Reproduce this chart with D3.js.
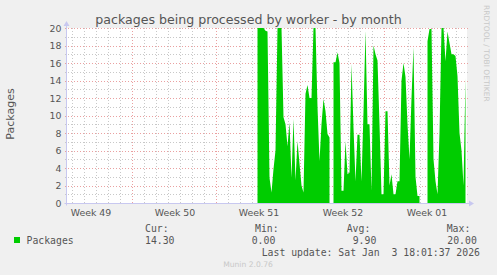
<!DOCTYPE html>
<html>
<head>
<meta charset="utf-8">
<script src="https://cdn.jsdelivr.net/npm/d3@7"></script>
<style>
  body { margin: 0; background: #f0f0f0; }
  svg { display: block; }
</style>
</head>
<body>
<div id="chart"></div>
<script>
/* CONSTANTS AND GLOBALS */
const width = 497,
  height = 275,
  plot = { left: 67, top: 28, width: 400, height: 175 },
  green = "#00cc00";

/* DATA */
// munin month view: 400 px wide, one pixel = 2 hours
const viewStart = "2025-12-02T13:00:00Z";
const viewHours = 800;
// samples every 4 hours from the first one, null = no data (gaps)
const firstSample = "2025-12-18T10:00:00Z";
const sampleStepHours = 4;
const packages = [
  20, 20, 20, 20, 19.7, 19.6, 2.9, 1.2, 3.9, 6,
  20, 20, 20, 9.8, 9, 6.5, 9.2, 2.9, 9.6, 2.6,
  7.1, 4.5, 2, 1.2, 12.5, 13.5, 12, 12, 20, 20,
  11, 4.8, 9, 11.9, 10.5, 7.9, 7.5, null, 16.1, 16.1,
  17.2, 16, 1.4, 1.4, 7.1, 3.3, 3.5, 15.9, 8.6, 2.5,
  7.8, 7.8, 2.5, 10.4, 19.7, 9, 9, 1.4, 18, 17,
  16.3, 9, 1, 1, 10.5, 10.5, 2, 3.3, 1, 1,
  2.5, 2.5, 14, 16, 14.4, 9, 5, 12, 17.8, 3,
  0.8, 0.8, null, null, null, 18.5, 19.9, 19.9, 5, 2.5,
  1, 8, 20, 20, 16.2, 19.6, 18.3, 17, 17, 16.8,
  14.5, 8, 6, 2, 14.3
];
const yTicks = [0, 2, 4, 6, 8, 10, 12, 14, 16, 18, 20];
const weekLabels = ["Week 49", "Week 50", "Week 51", "Week 52", "Week 01"];
// labels sit in the middle of each week (thursday noon)
const weekMids = ["2025-12-04T12:00:00Z", "2025-12-11T12:00:00Z", "2025-12-18T12:00:00Z",
  "2025-12-25T12:00:00Z", "2026-01-01T12:00:00Z"];
const legendHeads = ["Cur:", "Min:", "Avg:", "Max:"];
const legendValues = ["14.30", "0.00", "9.90", "20.00"];
const lastUpdate = "Last update: Sat Jan  3 18:01:37 2026";

/* SCALES */
const t0 = new Date(viewStart);
const t1 = new Date(t0.getTime() + viewHours * 3600e3);
const xScale = d3.scaleUtc().domain([t0, t1]).range([plot.left, plot.left + plot.width]);
const yScale = d3.scaleLinear().domain([0, 20]).range([plot.top + plot.height, plot.top]);

const data = packages.map((v, i) => ({
  t: new Date(new Date(firstSample).getTime() + i * sampleStepHours * 3600e3),
  v: v
}));

const svg = d3.select("#chart").append("svg")
  .attr("width", width)
  .attr("height", height)
  .style("font-family", "'DejaVu Sans', sans-serif");

svg.append("rect").attr("width", width).attr("height", height).attr("fill", "#f0f0f0");

// white canvas
svg.append("rect")
  .attr("x", plot.left).attr("y", plot.top)
  .attr("width", plot.width).attr("height", plot.height)
  .attr("fill", "#ffffff");

/* GRID */
const minorCol = "#c8c8c8", majorCol = "#eaa0a0";
const grid = svg.append("g").attr("stroke-width", 1).attr("stroke-dasharray", "1,2");

const yMinor = d3.range(0, 21);
grid.selectAll("line.h")
  .data(yMinor)
  .join("line")
  .attr("class", "h")
  .attr("x1", plot.left - 2).attr("x2", plot.left + plot.width + 1)
  .attr("y1", d => Math.round(yScale(d)) + 0.5)
  .attr("y2", d => Math.round(yScale(d)) + 0.5)
  .attr("stroke", d => d % 2 === 0 ? majorCol : minorCol);

const days = d3.utcDay.range(d3.utcDay.ceil(t0), t1);
grid.selectAll("line.v")
  .data(days)
  .join("line")
  .attr("class", "v")
  .attr("x1", d => Math.floor(xScale(d)) + 0.5)
  .attr("x2", d => Math.floor(xScale(d)) + 0.5)
  .attr("y1", plot.top)
  .attr("y2", plot.top + plot.height + 2)
  .attr("stroke", d => d.getUTCDay() === 1 ? majorCol : minorCol);

/* AREA */
const area = d3.area()
  .defined(d => d.v !== null)
  .x(d => xScale(d.t))
  .y0(yScale(0))
  .y1(d => yScale(d.v));

svg.append("path")
  .datum(data)
  .attr("d", area)
  .attr("fill", green);

/* AXES */
const axisCol = "#c8c8f0";
const y0 = Math.round(yScale(0)) + 0.5;
const xAx = plot.left - 0.5;
svg.append("line")
  .attr("x1", xAx - 2).attr("x2", plot.left + plot.width + 3)
  .attr("y1", y0).attr("y2", y0)
  .attr("stroke", axisCol);
svg.append("line")
  .attr("x1", xAx).attr("x2", xAx)
  .attr("y1", y0 + 2).attr("y2", plot.top - 4)
  .attr("stroke", axisCol);
svg.append("path")  // arrow right
  .attr("d", `M${plot.left + plot.width + 2},${y0 - 3}L${plot.left + plot.width + 7},${y0}L${plot.left + plot.width + 2},${y0 + 3}Z`)
  .attr("fill", axisCol);
svg.append("path")  // arrow up
  .attr("d", `M${xAx - 3},${plot.top - 2}L${xAx},${plot.top - 7}L${xAx + 3},${plot.top - 2}Z`)
  .attr("fill", axisCol);

const yAxis = d3.axisLeft(yScale).tickValues(yTicks).tickSize(0).tickPadding(5);
svg.append("g")
  .attr("transform", `translate(${xAx},0)`)
  .call(yAxis)
  .call(g => g.select(".domain").remove())
  .selectAll("text")
  .attr("fill", "#555")
  .style("font-size", "9.4px")
  .style("font-family", "'DejaVu Sans', sans-serif");

const xAxis = d3.axisBottom(xScale)
  .tickValues(weekMids.map(d => new Date(d)))
  .tickFormat((d, i) => weekLabels[i])
  .tickSize(0)
  .tickPadding(6);
svg.append("g")
  .attr("transform", `translate(0,${y0})`)
  .call(xAxis)
  .call(g => g.select(".domain").remove())
  .selectAll("text")
  .attr("fill", "#555")
  .style("font-size", "9.4px")
  .style("font-family", "'DejaVu Sans', sans-serif");

/* TEXTS */
svg.append("text")
  .attr("x", 248.5).attr("y", 24)
  .attr("text-anchor", "middle")
  .attr("fill", "#555")
  .style("font-size", "12.6px")
  .text("packages being processed by worker - by month");

svg.append("text")
  .attr("transform", "translate(13.5,114) rotate(-90)")
  .attr("text-anchor", "middle")
  .attr("fill", "#555")
  .style("font-size", "11px")
  .text("Packages");

svg.append("text")
  .attr("transform", "translate(484,5) rotate(90)")
  .attr("fill", "#c8c8c8")
  .style("font-size", "7.5px")
  .text("RRDTOOL / TOBI OETIKER");

/* LEGEND */
const mono = "'DejaVu Sans Mono', monospace";
const headX = [145, 255, 346.7, 446.7];
const valX = [145, 251.7, 352.7, 447.3];
const legend = svg.append("g")
  .attr("fill", "#555")
  .style("font-family", mono)
  .style("font-size", "9.8px");

legend.selectAll("text.head")
  .data(legendHeads)
  .join("text")
  .attr("class", "head")
  .attr("x", (d, i) => headX[i]).attr("y", 232)
  .text(d => d);

legend.selectAll("text.val")
  .data(legendValues)
  .join("text")
  .attr("class", "val")
  .attr("x", (d, i) => valX[i]).attr("y", 243.5)
  .text(d => d);

legend.append("rect")
  .attr("x", 14).attr("y", 237).attr("width", 6).attr("height", 6)
  .attr("fill", green);
legend.append("text")
  .attr("x", 26.5).attr("y", 243.5)
  .text("Packages");

legend.append("text")
  .attr("x", 261.7).attr("y", 255.5)
  .style("white-space", "pre")
  .attr("xml:space", "preserve")
  .text(lastUpdate);

svg.append("text")
  .attr("x", 248).attr("y", 267)
  .attr("text-anchor", "middle")
  .attr("fill", "#c8c8c8")
  .style("font-size", "7.6px")
  .text("Munin 2.0.76");
</script>
</body>
</html>
